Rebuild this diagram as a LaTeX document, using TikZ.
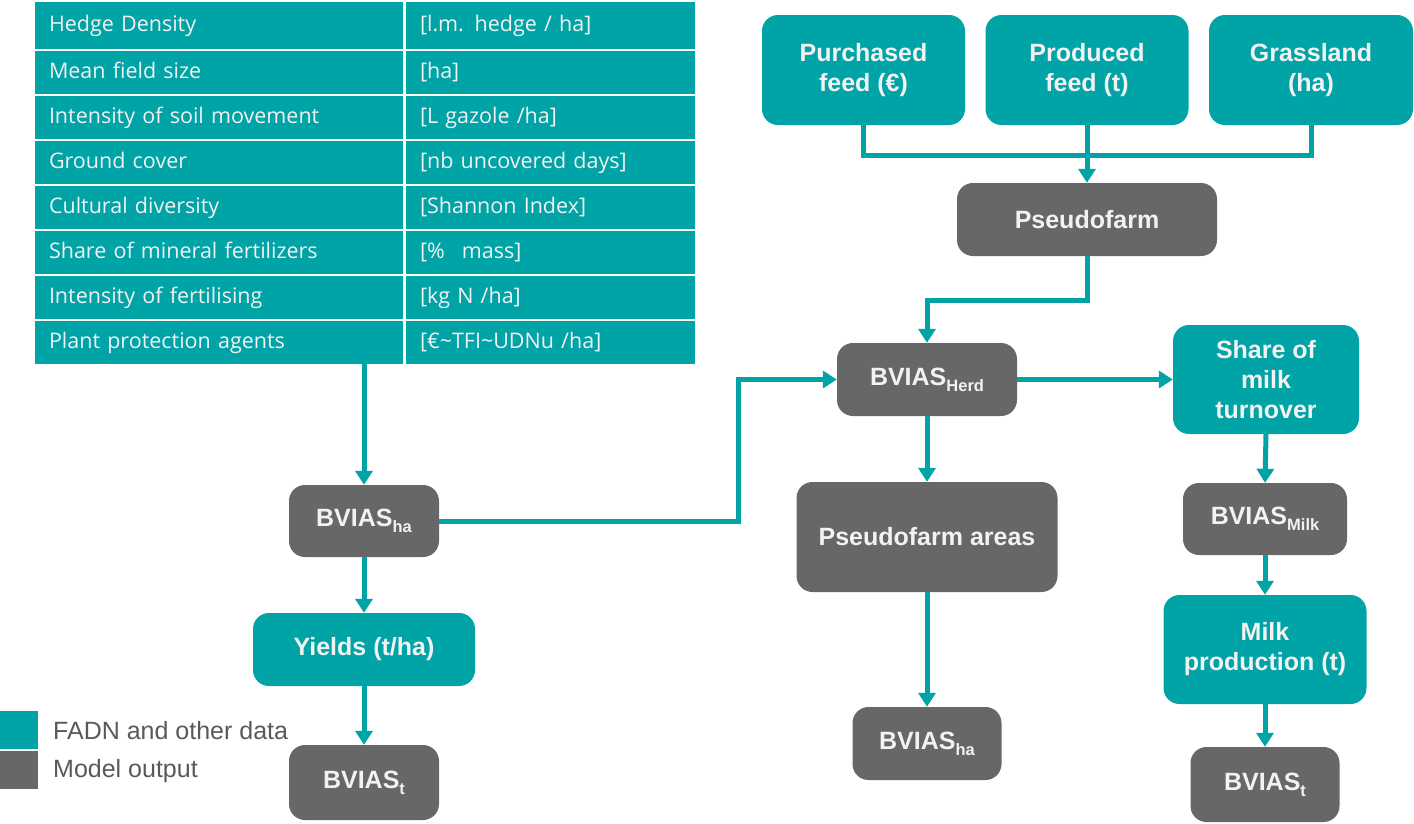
\documentclass[tikz,border=0pt]{standalone}
\usepackage{fontspec}
\setmainfont{Liberation Sans}
\newfontfamily\tabfont{Open Sans}
\usetikzlibrary{arrows.meta}
\definecolor{tealA}{RGB}{0,163,166}
\definecolor{grayA}{RGB}{103,103,103}
\definecolor{txtA}{RGB}{242,242,242}
\definecolor{legA}{RGB}{89,89,89}
\newcommand\subx[1]{\raisebox{-6pt}{\fontsize{16.5}{16.5}\selectfont #1}}
\tikzset{
  box/.style={rounded corners=16pt, text=txtA, font=\bfseries\fontsize{25}{30}\selectfont, align=center, inner sep=0pt},
  databox/.style={box, fill=tealA},
  outbox/.style={box, fill=grayA},
  conn/.style={draw=tealA, line width=5pt},
  arr/.style={conn, -{Triangle[width=17pt,length=14pt]}},
  cella/.style={fill=tealA, text=txtA, font=\tabfont\fontsize{21.5}{24}\selectfont, minimum width=368pt, text width=340pt, inner xsep=14pt, inner ysep=0pt, text height=14pt, text depth=3pt, align=left},
  cellb/.style={fill=tealA, text=txtA, font=\tabfont\fontsize{21.5}{24}\selectfont, minimum width=289pt, text width=261pt, inner xsep=14pt, inner ysep=0pt, text height=14pt, text depth=3pt, align=left},
  legsq/.style={minimum width=38pt, minimum height=38pt, inner sep=0pt},
  legtext/.style={text=legA, font=\fontsize{25}{28}\selectfont, anchor=west, inner sep=0pt}
}
\begin{document}
\begin{tikzpicture}[x=1pt,y=-1pt]
\useasboundingbox (0,0) rectangle (1414,823);
% table
\node[cella, minimum height=47pt] (r1a) at (219,25.5) {Hedge Density};
\node[cellb, minimum height=47pt] (r1b) at (550.5,25.5) {[l.m. hedge / ha]};
\node[cella, minimum height=43pt] (r2a) at (219,72.5) {Mean field size};
\node[cellb, minimum height=43pt] (r2b) at (550.5,72.5) {[ha]};
\node[cella, minimum height=43pt] (r3a) at (219,117.5) {Intensity of soil movement};
\node[cellb, minimum height=43pt] (r3b) at (550.5,117.5) {[L gazole /ha]};
\node[cella, minimum height=43pt] (r4a) at (219,162.5) {Ground cover};
\node[cellb, minimum height=43pt] (r4b) at (550.5,162.5) {[nb uncovered days]};
\node[cella, minimum height=43pt] (r5a) at (219,207.5) {Cultural diversity};
\node[cellb, minimum height=43pt] (r5b) at (550.5,207.5) {[Shannon Index]};
\node[cella, minimum height=43pt] (r6a) at (219,252.5) {Share of mineral fertilizers};
\node[cellb, minimum height=43pt] (r6b) at (550.5,252.5) {[\%\hspace{0.8em}mass]};
\node[cella, minimum height=43pt] (r7a) at (219,297.5) {Intensity of fertilising};
\node[cellb, minimum height=43pt] (r7b) at (550.5,297.5) {[kg N /ha]};
\node[cella, minimum height=43pt] (r8a) at (219,342.5) {Plant protection agents};
\node[cellb, minimum height=43pt] (r8b) at (550.5,342.5) {[€\textasciitilde TFI\textasciitilde UDNu /ha]};
% boxes
\node[databox, minimum width=203pt, minimum height=110pt] (pur) at (863.5,70) {Purchased\\feed (€)};
\node[databox, minimum width=203pt, minimum height=110pt] (prod) at (1087,70) {Produced\\feed (t)};
\node[databox, minimum width=204pt, minimum height=110pt] (grass) at (1311,70) {Grassland\\(ha)};
\node[outbox, minimum width=260pt, minimum height=73pt] (pf) at (1087,219.5) {Pseudofarm};
\node[outbox, minimum width=180pt, minimum height=73pt] (herd) at (927,379.5) {BVIAS\subx{Herd}};
\node[databox, minimum width=186pt, minimum height=109pt] (share) at (1266,379.5) {Share of\\milk\\turnover};
\node[outbox, minimum width=261pt, minimum height=110pt] (pfa) at (927,537) {Pseudofarm areas};
\node[outbox, minimum width=149pt, minimum height=73pt] (bhaR) at (927,743.5) {BVIAS\subx{ha}};
\node[outbox, minimum width=164pt, minimum height=72pt] (milkB) at (1265,519) {BVIAS\subx{Milk}};
\node[databox, minimum width=203pt, minimum height=109pt] (milkP) at (1265,649.5) {Milk\\production (t)};
\node[outbox, minimum width=149pt, minimum height=75pt] (btR) at (1265,784.5) {BVIAS\subx{t}};
\node[outbox, minimum width=150pt, minimum height=72pt] (bhaL) at (364,521) {BVIAS\subx{ha}};
\node[databox, minimum width=222pt, minimum height=73pt] (yld) at (364,649.5) {Yields (t/ha)};
\node[outbox, minimum width=150pt, minimum height=75pt] (btL) at (364,782.5) {BVIAS\subx{t}};
% legend
\node[legsq, fill=tealA] (lg1) at (19,730) {};
\node[legsq, fill=grayA] (lg2) at (19,770) {};
\node[legtext] (lt1) at (53,731) {FADN and other data};
\node[legtext] (lt2) at (53,771) {Model output};
% connectors
\coordinate (feedj) at (1087,155);
\draw[conn] (pur.south) |- (feedj);
\draw[conn] (grass.south) |- (feedj);
\draw[arr] (prod.south) -- (pf.north);
\draw[arr] (pf.south) -- ++(0,44) -| (herd.north);
\draw[arr] (herd.east) -- (share.west);
\draw[arr] (herd.south) -- (pfa.north);
\draw[arr] (pfa.south) -- (bhaR.north);
\draw[arr] (share.south) -- (milkB.north);
\draw[arr] (milkB.south) -- (milkP.north);
\draw[arr] (milkP.south) -- (btR.north);
\draw[arr] (r8a.south -| bhaL.north) -- (bhaL.north);
\coordinate (kx) at (738,450);
\draw[arr] (bhaL.east) -| (kx) |- (herd.west);
\draw[arr] (bhaL.south) -- (yld.north);
\draw[arr] (yld.south) -- (btL.north);
\end{tikzpicture}
\end{document}
